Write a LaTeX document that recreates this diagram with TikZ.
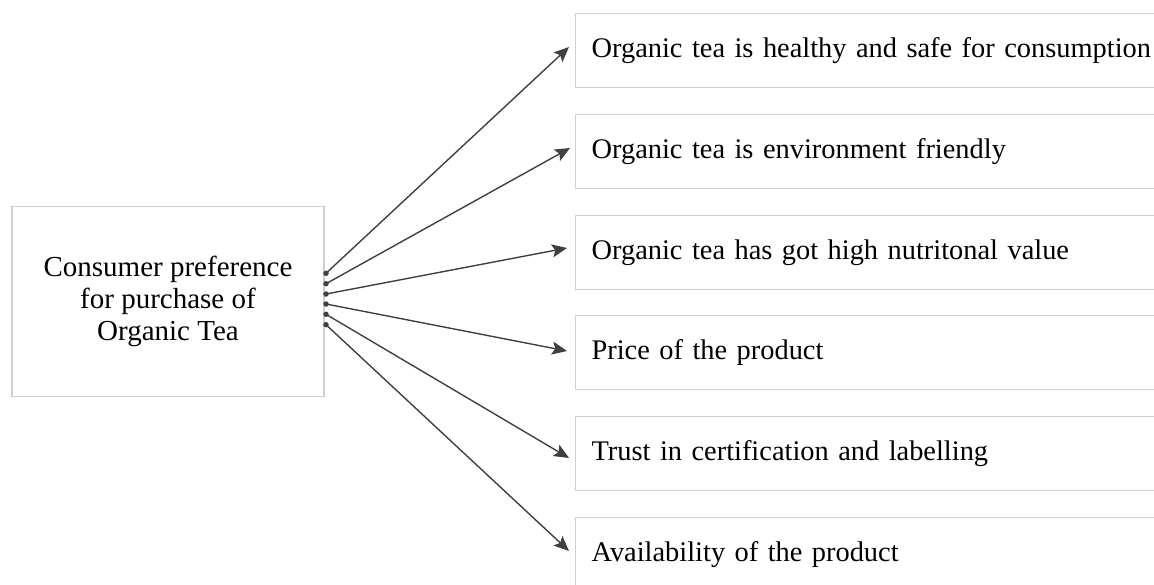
\documentclass[tikz,border=0pt]{standalone}
\usepackage{fontspec}
\setmainfont{Liberation Serif}
\usetikzlibrary{arrows.meta}
\definecolor{boxline}{HTML}{D0D0D0}
\definecolor{arrowc}{HTML}{404040}
\tikzset{
  leftbox/.style={draw=boxline, line width=1.2pt, minimum width=312pt, minimum height=190pt, align=center, inner sep=0pt, font=\fontsize{29}{32}\selectfont},
  rightbox/.style={draw=boxline, line width=1.2pt, minimum width=600pt, minimum height=74pt, anchor=north west, text width=568pt, align=left, inner xsep=16pt, inner ysep=0pt, font=\fontsize{28.4}{32}\selectfont},
  conn/.style={draw=arrowc, line width=1.4pt, -{Stealth[length=15pt, width=13pt, inset=3pt]}},
  startdot/.style={circle, fill=arrowc, inner sep=0pt, minimum size=5.5pt}
}
\begin{document}
\begin{tikzpicture}[x=1pt, y=-1pt]
\useasboundingbox (0,0) rectangle (1154,584);
\clip (0,0) rectangle (1154,584);
\node[leftbox] (src) at (168,301.5) {Consumer preference\\for purchase of\\Organic Tea};
\node[rightbox] (b1) at (575,13) {Organic tea is healthy and safe for consumption};
\node[rightbox] (b2) at (575,114) {Organic tea is environment friendly};
\node[rightbox] (b3) at (575,215) {Organic tea has got high nutritonal value};
\node[rightbox] (b4) at (575,315) {Price of the product};
\node[rightbox] (b5) at (575,416) {Trust in certification and labelling};
\node[rightbox] (b6) at (575,517) {Availability of the product};
\node[startdot] (s1) at (326,273.3) {};
\node[startdot] (s2) at (326,283.7) {};
\node[startdot] (s3) at (326,294) {};
\node[startdot] (s4) at (326,304) {};
\node[startdot] (s5) at (326,314.3) {};
\node[startdot] (s6) at (326,324.7) {};
\coordinate (t1) at (569,47);
\coordinate (t2) at (570,148);
\coordinate (t3) at (567,248);
\coordinate (t4) at (567,351);
\coordinate (t5) at (569,458);
\coordinate (t6) at (569,551);
\draw[conn] (s1.center) -- (t1);
\draw[conn] (s2.center) -- (t2);
\draw[conn] (s3.center) -- (t3);
\draw[conn] (s4.center) -- (t4);
\draw[conn] (s5.center) -- (t5);
\draw[conn] (s6.center) -- (t6);
\end{tikzpicture}
\end{document}
